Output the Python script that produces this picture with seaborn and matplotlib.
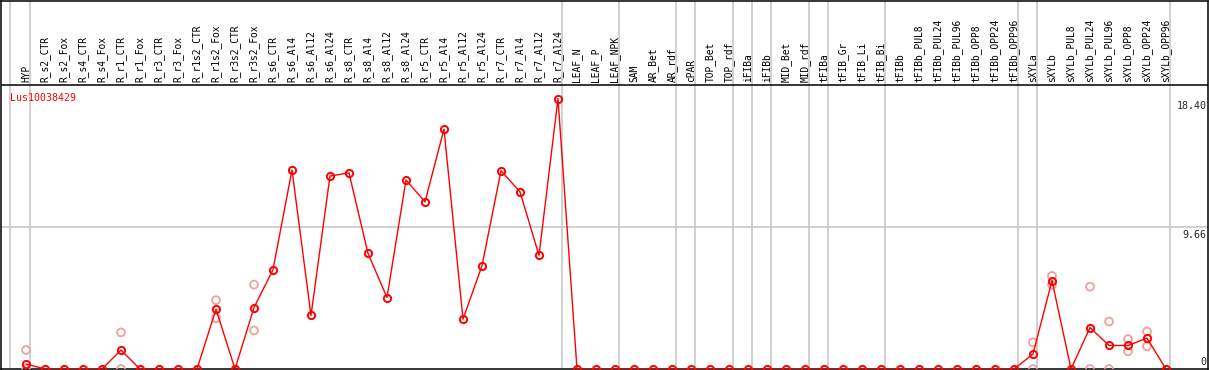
import matplotlib
matplotlib.use("Agg")
import matplotlib.pyplot as plt
import seaborn as sns
import pandas as pd

# ---------------- data ----------------
categories = [
    "HYP",
    "R_s2_CTR", "R_s2_Fox", "R_s4_CTR", "R_s4_Fox", "R_r1_CTR", "R_r1_Fox",
    "R_r3_CTR", "R_r3_Fox", "R_r1s2_CTR", "R_r1s2_Fox", "R_r3s2_CTR", "R_r3s2_Fox",
    "R_s6_CTR", "R_s6_Al4", "R_s6_Al12", "R_s6_Al24",
    "R_s8_CTR", "R_s8_Al4", "R_s8_Al12", "R_s8_Al24",
    "R_r5_CTR", "R_r5_Al4", "R_r5_Al12", "R_r5_Al24",
    "R_r7_CTR", "R_r7_Al4", "R_r7_Al12", "R_r7_Al24",
    "LEAF_N", "LEAF_P", "LEAF_NPK",
    "SAM", "AR_Bet", "AR_rdf",
    "cPAR",
    "TOP_Bet", "TOP_rdf",
    "iFIBa",
    "iFIBb",
    "MID_Bet", "MID_rdf",
    "tFIBa",
    "tFIB_Gr", "tFIB_Li", "tFIB_Bi",
    "tFIBb", "tFIBb_PUL8", "tFIBb_PUL24", "tFIBb_PUL96", "tFIBb_OPP8", "tFIBb_OPP24", "tFIBb_OPP96",
    "sXYLa",
    "sXYLb", "sXYLb_PUL8", "sXYLb_PUL24", "sXYLb_PUL96", "sXYLb_OPP8", "sXYLb_OPP24", "sXYLb_OPP96",
]
group_sizes = [1, 28, 3, 3, 1, 2, 1, 1, 2, 1, 3, 7, 1, 7]

mean_values = [
    0.34,
    0, 0, 0, 0, 1.29, 0, 0, 0, 0, 4.07, 0, 4.18,
    6.76, 13.54, 3.64, 13.13,
    13.34, 7.86, 4.86, 12.86,
    11.37, 16.32, 3.39, 7.03,
    13.49, 12.05, 7.73, 18.40,
    0, 0, 0,
    0, 0, 0,
    0,
    0, 0,
    0,
    0,
    0, 0,
    0,
    0, 0, 0,
    0, 0, 0, 0, 0, 0, 0,
    1.02,
    6.01, 0, 2.82, 1.60, 1.60, 2.10, 0,
]

rep_labels = ["HYP", "HYP", "R_r1_CTR", "R_r1_CTR", "R_r1s2_Fox", "R_r1s2_Fox",
              "R_r3s2_Fox", "R_r3s2_Fox", "sXYLa", "sXYLa", "sXYLb", "sXYLb",
              "sXYLb_PUL24", "sXYLb_PUL24", "sXYLb_PUL96", "sXYLb_PUL96",
              "sXYLb_OPP8", "sXYLb_OPP8", "sXYLb_OPP24", "sXYLb_OPP24"]
rep_values = [1.29, 0, 2.49, 0, 4.68, 3.46,
              5.74, 2.62, 1.81, 0, 6.33, 5.72,
              5.60, 0, 3.23, 0,
              2.03, 1.20, 2.55, 1.54]

gene_name = "Lus10038429"
right_ticks = [18.40, 9.66, 0]
right_tick_labels = ["18.40", "9.66", "0"]

# ---------------- figure ----------------
sns.set_style("white")
plt.rcParams["font.family"] = ["DejaVu Sans Mono", "DejaVu Sans"]

W, H = 1209, 370
fig = plt.figure(figsize=(W / 100, H / 100), dpi=100)

# axes covers whole bordered box (labels + plot area)
px_left, px_right, px_top, px_bottom = 1, 1208, 0.5, 369
ax = fig.add_axes([px_left / W, 1 - px_bottom / H,
                   (px_right - px_left) / W, (px_bottom - px_top) / H])

step = 19.0          # pixels per category
x0 = 26.0            # pixel of first category
ppu = 14.7           # pixels per value unit
ax.set_xlim((px_left - x0) / step, (px_right - x0) / step)
ax.set_ylim(0, (px_bottom - px_top) / ppu)

plot_top = 2 * right_ticks[1]   # plot region upper bound

idx = {c: i for i, c in enumerate(categories)}
df = pd.DataFrame({"x": range(len(categories)), "y": mean_values})
rep = pd.DataFrame({"x": [idx[c] for c in rep_labels], "y": rep_values})

# group separators
ax.axvline(-0.84, color="#c4c4c4", lw=1.1, zorder=1)
end = -1
for g in group_sizes:
    end += g
    ax.axvline(end + 0.21, color="#c4c4c4", lw=1.1, zorder=1)

# horizontal grid line at mid value, and label-area separator
ax.axhline(right_ticks[1], color="#c4c4c4", lw=1.1, zorder=1)
ax.axhline(plot_top, color="black", lw=1.1, zorder=3)

# replicates
sns.scatterplot(data=rep, x="x", y="y", ax=ax, marker="o", s=32,
                facecolors="none", edgecolors="#f0a0a0", linewidths=1.3,
                zorder=4, legend=False)
# mean line
sns.lineplot(data=df, x="x", y="y", ax=ax, color="red", linewidth=1.0,
             marker="o", markersize=5.2, markerfacecolor="none",
             markeredgecolor="red", markeredgewidth=1.4, zorder=5)

# category labels
for i, c in enumerate(categories):
    ax.text(i, plot_top + 0.2, c, rotation=90, ha="center", va="bottom",
            fontsize=6.9, color="black")

# gene name
ax.text((10 - x0) / step, 18.45, gene_name, color="red", fontsize=7.1,
        ha="left", va="center")

# right value labels
for v, lab in zip(right_ticks, right_tick_labels):
    if v == 0:
        ax.text(0.999, v + 0.15, lab, transform=ax.get_yaxis_transform(),
                ha="right", va="bottom", fontsize=7.2)
    else:
        ax.text(0.999, v - 0.2, lab, transform=ax.get_yaxis_transform(),
                ha="right", va="top", fontsize=7.2)

ax.set_xlabel("")
ax.set_ylabel("")
ax.set_xticks([])
ax.set_yticks([])
for s in ax.spines.values():
    s.set_color("black")
    s.set_linewidth(1.1)

fig.savefig("out.png", dpi=100)
